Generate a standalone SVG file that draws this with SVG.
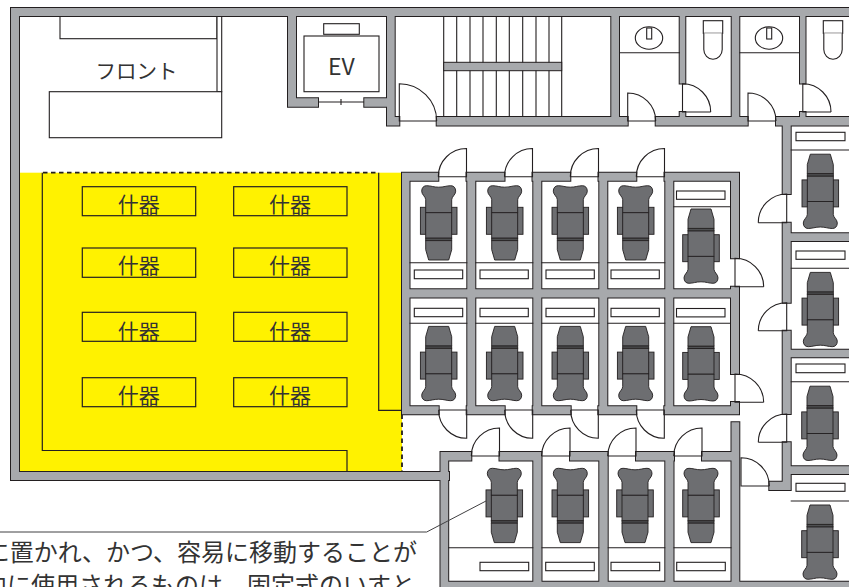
<svg xmlns="http://www.w3.org/2000/svg" xmlns:xlink="http://www.w3.org/1999/xlink" width="849" height="587" viewBox="0 0 849 587">
<style>
.ln{fill:none;stroke:#231f20;stroke-width:1.1}
.bx{fill:#fff;stroke:#231f20;stroke-width:1.1}
.yb{fill:none;stroke:#231f20;stroke-width:1.2}
.dash{fill:none;stroke:#231f20;stroke-width:1.8;stroke-dasharray:4.5 3.5}
.door{fill:none;stroke:#231f20;stroke-width:1.1}
.t{font-family:"Noto Sans CJK JP","Liberation Sans",sans-serif;fill:#333;text-anchor:middle}
.seat{fill:#6d6e71;stroke:#231f20;stroke-width:.9}
.cap{fill:#4f5052;stroke:#231f20;stroke-width:.9}
</style>
<defs>
<path id="walls" d="M11 8H860V16H11Z M11 8H19V480H11Z M11 472H449V480H11Z
M288 16H296V106.7H288Z M288 98.3H318V106.7H288Z M364.3 98.3H394.7V106.7H364.3Z M387 16H394.7V125.5H387Z M387 117H399.3V125.5H387Z
M436.7 117H627.7V125.5H436.7Z M611.3 16H619V125H611.3Z M655.7 117H747.7V125.5H655.7Z M731.7 16H739.3V125H731.7Z M776 117H860V125.5H776Z
M679.7 16H685.3V83.5H679.7Z M679.7 112H685.3V117H679.7Z M800 16H805.5V83.5H800Z M800 112H805.5V117H800Z
M782.7 117H790.7V194H782.7Z M782.7 222.7H790.7V302.7H782.7Z M782.7 330.7H790.7V414H782.7Z M782.7 442.3H790.7V490H782.7Z M769.3 481.7H790.7V490H769.3Z
M782.7 233.3H860V241H782.7Z M782.7 349.7H860V357.3H782.7Z M790 466.3H860V474H790Z
M402 172.7H438.3V180.7H402Z M466.5 172.7H504.5V180.7H466.5Z M532.5 172.7H570.3V180.7H532.5Z M598.5 172.7H636.3V180.7H598.5Z M664.5 172.7H739V180.7H664.5Z
M402 172.7H409.5V414.3H402Z M467.3 172.7H475.3V414H467.3Z M533.3 172.7H541.3V414H533.3Z M599.3 172.7H607.3V414H599.3Z M665.3 172.7H673.3V414H665.3Z
M731 172.7H739V258.3H731Z M731 286.7H739V374H731Z M731 402H739V414.3H731Z
M402 289.3H739V297.5H402Z
M402 406.2H438.7V414.3H402Z M466.7 406.2H504.7V414.3H466.7Z M532.7 406.2H570.7V414.3H532.7Z M598.3 406.2H636.3V414.3H598.3Z M664.3 406.2H739V414.3H664.3Z
M440.5 452H471.3V460.5H440.5Z M499.5 452H541V460.5H499.5Z M570 452H607.7V460.5H570Z M636 452H674V460.5H636Z M702 452H739.3V460.5H702Z
M440.5 452H448.2V595H440.5Z M533.3 452H541.5V595H533.3Z M599.3 452H607.7V595H599.3Z M665.3 452H673.5V595H665.3Z M731.5 422.3H739.3V595H731.5Z
M440.5 581.8H860V595H440.5Z"/>
<g id="chair">
<rect class="seat" x="-18.3" y="21.6" width="5.8" height="27"/>
<rect class="seat" x="12.5" y="21.6" width="5.8" height="27"/>
<path class="seat" d="M-13 27V14C-13 11-17 9-17 5.5C-17 2-15 0-12 0C-8 0-5 1.5 0 1.5C5 1.5 8 0 12 0C15 0 17 2 17 5.5C17 9 13 11 13 14V27Z"/>
<rect class="seat" x="-13" y="27" width="26" height="25.5"/>
<rect class="cap" x="-13" y="52.5" width="26" height="2.4"/>
<path class="seat" d="M-13 54.9V64L-10 74.3H10L13 64V54.9Z"/>
</g>
</defs>

<rect id="background" width="849" height="587" fill="#fff"/>
<rect id="yellow-area" x="19" y="172.7" width="383" height="299.3" fill="#fff200"/>

<g id="yellow-lines">
<path class="yb" d="M42.3 172.7V450.5H347V472"/>
<path class="yb" d="M378.7 172.7V410.3H402"/>
<path class="dash" d="M43 172.7H379"/>
<path class="dash" d="M402 414.5V472"/>
</g>

<g id="fixtures">
<g id="fixture-1"><rect class="yb" x="82.3" y="186.7" width="113.4" height="29"/><text class="t" x="138.7" y="212" font-size="21">什器</text></g>
<g id="fixture-2"><rect class="yb" x="233.7" y="186.7" width="113.3" height="29"/><text class="t" x="290" y="212" font-size="21">什器</text></g>
<g id="fixture-3"><rect class="yb" x="82.3" y="248" width="113.4" height="29.3"/><text class="t" x="138.7" y="273" font-size="21">什器</text></g>
<g id="fixture-4"><rect class="yb" x="233.7" y="248" width="113.3" height="29.3"/><text class="t" x="290" y="273" font-size="21">什器</text></g>
<g id="fixture-5"><rect class="yb" x="82.3" y="312.3" width="113.4" height="29"/><text class="t" x="138.7" y="339" font-size="21">什器</text></g>
<g id="fixture-6"><rect class="yb" x="233.7" y="312.3" width="113.3" height="29"/><text class="t" x="290" y="339" font-size="21">什器</text></g>
<g id="fixture-7"><rect class="yb" x="82.3" y="377.7" width="113.4" height="29"/><text class="t" x="138.7" y="403" font-size="21">什器</text></g>
<g id="fixture-8"><rect class="yb" x="233.7" y="377.7" width="113.3" height="29"/><text class="t" x="290" y="403" font-size="21">什器</text></g>
</g>

<g id="front">
<rect class="bx" x="60" y="16" width="157" height="22.7"/>
<rect class="bx" x="217" y="16" width="4.7" height="75.7"/>
<rect class="bx" x="49.3" y="91.7" width="172.4" height="46"/>
<text class="t" x="136.5" y="79" font-size="20.5">フロント</text>
</g>

<g id="elevator">
<rect class="bx" x="304" y="36" width="75" height="55.7"/>
<rect class="bx" x="323.7" y="23.7" width="35.6" height="10.6"/>
<path class="ln" d="M318 102H364.3M341 99V105"/>
<text class="t" x="341.3" y="75" font-size="23">EV</text>
</g>

<g id="stairs">
<path class="ln" d="M443.7 16V117M456.7 16V117M470 16V117M483 16V117M496.3 16V117M509.3 16V117M522.7 16V117M536 16V117M549 16V117M561.7 16V117"/>
<rect x="443.7" y="62.3" width="118" height="8.4" fill="#a7a9ac" stroke="#231f20" stroke-width="1"/>
</g>

<g id="walls-group">
<use xlink:href="#walls" href="#walls" fill="#231f20" stroke="#231f20" stroke-width="2"/>
<use xlink:href="#walls" href="#walls" fill="#a7a9ac"/>
</g>

<g id="restroom-1">
<path class="ln" d="M619 52.7H680"/>
<ellipse class="bx" cx="649" cy="38" rx="13.7" ry="11.2"/>
<rect class="bx" x="646.7" y="28" width="5" height="11"/>
<rect class="bx" x="703.3" y="20.7" width="19.4" height="12.6"/>
<path class="bx" d="M703.8 33.3V49.5A9.2 9.8 0 0 0 722.2 49.5V33.3"/>
</g>
<g id="restroom-2">
<path class="ln" d="M739.3 52.7H800"/>
<ellipse class="bx" cx="769" cy="38" rx="13.7" ry="11.2"/>
<rect class="bx" x="766.7" y="28" width="5" height="11"/>
<rect class="bx" x="823.3" y="20.7" width="19.4" height="12.6"/>
<path class="bx" d="M823.8 33.3V49.5A9.2 9.8 0 0 0 842.2 49.5V33.3"/>
</g>

<g id="doors">
<path class="door" d="M436.7 121H399.3V83.7A37.4 37.4 0 0 1 436.7 121"/>
<path class="door" d="M655.7 121H627.7V93A28 28 0 0 1 655.7 121"/>
<path class="door" d="M776 121H748V93A28 28 0 0 1 776 121"/>
<path class="door" d="M710.7 112H682.5V83.7A28.2 28.2 0 0 1 710.7 112"/>
<path class="door" d="M831 112H802.8V83.7A28.2 28.2 0 0 1 831 112"/>
<path class="door" d="M438.3 176.7H466.5V148.5A28.2 28.2 0 0 0 438.3 176.7"/>
<path class="door" d="M504.5 176.7H532.5V148.5A28 28 0 0 0 504.5 176.7"/>
<path class="door" d="M570.3 176.7H598.5V148.5A28.2 28.2 0 0 0 570.3 176.7"/>
<path class="door" d="M636.3 176.7H664.5V148.5A28.2 28.2 0 0 0 636.3 176.7"/>
<path class="door" d="M438.7 410H466.7V438.3A28 28 0 0 1 438.7 410"/>
<path class="door" d="M504.7 410H532.7V438.3A28 28 0 0 1 504.7 410"/>
<path class="door" d="M570.7 410H598.3V438.3A28 28 0 0 1 570.7 410"/>
<path class="door" d="M636.3 410H664.3V438.3A28 28 0 0 1 636.3 410"/>
<path class="door" d="M471.3 456H499.5V428A28.2 28.2 0 0 0 471.3 456"/>
<path class="door" d="M541.5 456H570V428A28.5 28.5 0 0 0 541.5 456"/>
<path class="door" d="M607.7 456H636V428A28.3 28.3 0 0 0 607.7 456"/>
<path class="door" d="M673.7 456H702V428A28.3 28.3 0 0 0 673.7 456"/>
<path class="door" d="M763.7 286.7H735V258.3A28.5 28.5 0 0 1 763.7 286.7"/>
<path class="door" d="M763.7 402.3H735V374A28.5 28.5 0 0 1 763.7 402.3"/>
<path class="door" d="M769.3 486H741V457.7A28.3 28.3 0 0 1 769.3 486"/>
<path class="door" d="M758.3 222.7H786.7V194A28.5 28.5 0 0 0 758.3 222.7"/>
<path class="door" d="M758.3 330.7H786.7V302.7A28.4 28 0 0 0 758.3 330.7"/>
<path class="door" d="M758.3 442.3H786.7V414A28.4 28.3 0 0 0 758.3 442.3"/>
</g>

<g id="room-fixtures">
<path class="ln" d="M409.5 262.7H467.3M475.3 262.7H533.3M541.3 262.7H599.3M607.3 262.7H665.3M673.3 206.7H731M409.5 323.3H467.3M475.3 323.3H533.3M541.3 323.3H599.3M607.3 323.3H665.3M673.3 323.3H731M448.2 547.7H533.3M541.5 547.7H599.3M607.7 547.7H665.3M673.5 547.7H731.5M790.7 150H849M790.7 268.3H849M790.7 381.7H849M790.7 501H849"/>
<rect class="bx" x="414.3" y="270" width="48.4" height="8.7"/>
<rect class="bx" x="480" y="270" width="48.3" height="8.7"/>
<rect class="bx" x="546" y="270" width="48.3" height="8.7"/>
<rect class="bx" x="611" y="270" width="48.3" height="8.7"/>
<rect class="bx" x="676.5" y="191" width="48.5" height="8.3"/>
<rect class="bx" x="414.3" y="308.3" width="48.4" height="8.4"/>
<rect class="bx" x="480" y="308.3" width="48.3" height="8.4"/>
<rect class="bx" x="546" y="308.3" width="48.3" height="8.4"/>
<rect class="bx" x="611" y="308.3" width="48.3" height="8.4"/>
<rect class="bx" x="676.5" y="308.5" width="48.5" height="8.4"/>
<rect class="bx" x="480" y="562.3" width="48.7" height="8.4"/>
<rect class="bx" x="545.7" y="562.3" width="48.6" height="8.4"/>
<rect class="bx" x="611" y="562.3" width="48.7" height="8.4"/>
<rect class="bx" x="676.7" y="562.3" width="48.6" height="8.4"/>
<rect class="bx" x="796" y="132.3" width="49" height="8.4"/>
<rect class="bx" x="796" y="251" width="49" height="8.3"/>
<rect class="bx" x="796" y="364" width="49" height="8.7"/>
<rect class="bx" x="796" y="483.3" width="49" height="8"/>
</g>

<g id="chairs">
<use href="#chair" transform="translate(438.7 185.7)"/>
<use href="#chair" transform="translate(504.7 185.7)"/>
<use href="#chair" transform="translate(570.3 185.7)"/>
<use href="#chair" transform="translate(635.7 185.7)"/>
<use href="#chair" transform="translate(701 283.3) scale(1 -1)"/>
<use href="#chair" transform="translate(438.7 400.7) scale(1 -1)"/>
<use href="#chair" transform="translate(504.7 400.7) scale(1 -1)"/>
<use href="#chair" transform="translate(570.3 400.7) scale(1 -1)"/>
<use href="#chair" transform="translate(635.7 400.7) scale(1 -1)"/>
<use href="#chair" transform="translate(701 401) scale(1 -1)"/>
<use href="#chair" transform="translate(504.3 468.3)"/>
<use href="#chair" transform="translate(570.3 468.3)"/>
<use href="#chair" transform="translate(635 468.3)"/>
<use href="#chair" transform="translate(701 468.3)"/>
<use href="#chair" transform="translate(820.3 228.5) scale(1 -1)"/>
<use href="#chair" transform="translate(820.3 346.7) scale(1 -1)"/>
<use href="#chair" transform="translate(820 460.5) scale(1 -1)"/>
<use href="#chair" transform="translate(820 579.3) scale(1 -1)"/>
</g>

<g id="connectors">
<path d="M486 501L426.7 532H-2" fill="none" stroke="#414042" stroke-width="1"/>
</g>

<g id="caption" font-size="24" fill="#333" font-family="'Noto Sans CJK JP','Liberation Sans',sans-serif" text-anchor="end">
<text x="417" y="561">に置かれ、かつ、容易に移動することが</text>
<text x="415" y="594">内に使用されるものは、固定式のいすと</text>
</g>
</svg>
